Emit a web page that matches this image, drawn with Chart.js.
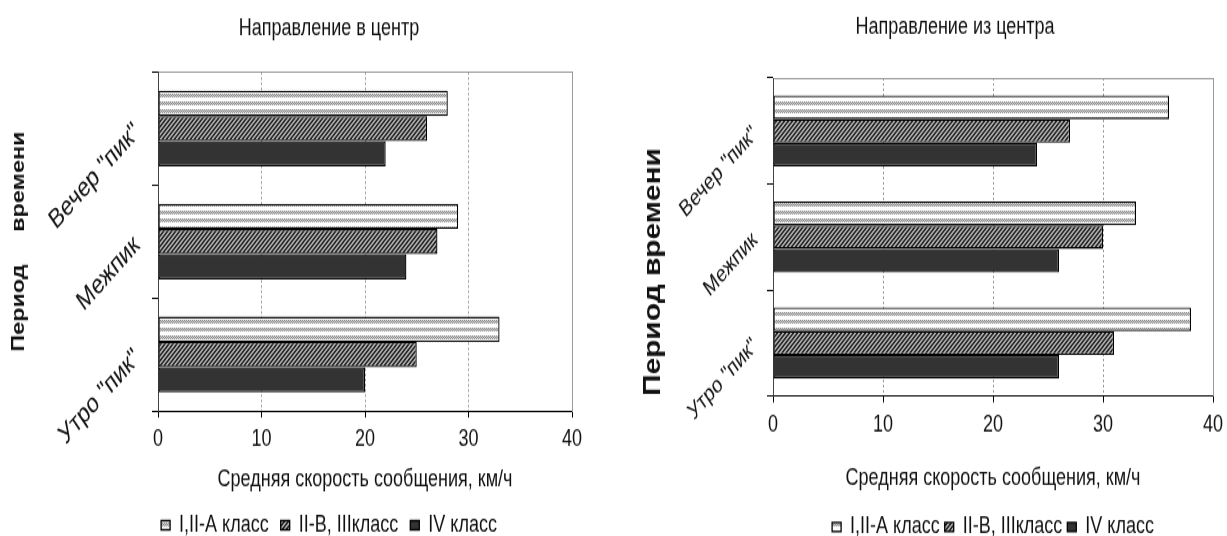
<!DOCTYPE html>
<html>
<head>
<meta charset="utf-8">
<script src="https://cdn.jsdelivr.net/npm/chart.js@4"></script>
<style>
  html, body { margin: 0; padding: 0; width: 1227px; height: 536px; overflow: hidden; background: #fff; }
  /* the source picture is stretched vertically, so the charts are too */
  .box { position: absolute; top: 0; transform: scaleY(1.3); transform-origin: 0 0; }
</style>
</head>
<body>
<div class="box" style="left:0"><canvas id="chartIn" width="658" height="430"></canvas></div>
<div class="box" style="left:636px"><canvas id="chartOut" width="638" height="430"></canvas></div>

<script>
// Data
const periods = ['Вечер "пик"', 'Межпик', 'Утро "пик"'];
const seriesNames = ['I,II-A класс', 'II-B, IIIкласс', 'IV класс'];

const inClass1 = [28, 29, 33];
const inClass2 = [26, 27, 25];
const inClass4 = [22, 24, 20];

const outClass1 = [36, 33, 38];
const outClass2 = [27, 30, 31];
const outClass4 = [24, 26, 26];

const speedTicks = [0, 10, 20, 30, 40];

const FONT = "'Liberation Sans', Arial, sans-serif";

// Fill patterns
function makePattern(w, h, draw) {
  const c = document.createElement('canvas');
  c.width = w; c.height = h;
  const p = c.getContext('2d');
  draw(p);
  return document.createElement('canvas').getContext('2d').createPattern(c, 'repeat');
}

// white with wavy grey bands
const stripes = makePattern(4, 6, p => {
  p.fillStyle = '#fff'; p.fillRect(0, 0, 4, 6);
  for (let x = 0; x < 4; x++) {
    p.fillStyle = x % 2 ? '#dcdcdc' : '#8c8c8c'; p.fillRect(x, 0, 1, 1);
    p.fillStyle = x % 2 ? '#8c8c8c' : '#c8c8c8'; p.fillRect(x, 1, 1, 1);
    p.fillStyle = x % 2 ? '#dcdcdc' : '#9a9a9a'; p.fillRect(x, 2, 1, 1);
  }
});

// dense diagonal hatch
const hatch = makePattern(4, 4, p => {
  p.fillStyle = '#aaaaaa'; p.fillRect(0, 0, 4, 4);
  p.fillStyle = '#2a2a2a';
  for (let x = 0; x < 4; x++)
    for (let y = 0; y < 4; y++)
      if ((x + y) % 4 < 2) p.fillRect(x, y, 1, 1);
});

const fills = [stripes, hatch, '#333333'];

function buildChart(id, title, values, p) {
  const datasets = values.map((v, i) => ({
    label: seriesNames[i],
    data: v,
    backgroundColor: fills[i],
    borderColor: '#000',
    borderWidth: 1.3,
    borderSkipped: false,
    categoryPercentage: 0.67,
    barPercentage: 1.0
  }));

  return new Chart(document.getElementById(id), {
    type: 'bar',
    data: { labels: periods, datasets: datasets },
    options: {
      indexAxis: 'y',
      responsive: false,
      animation: false,
      layout: { padding: { left: 0, right: 0, top: 0, bottom: p.padBottom } },
      plugins: {
        title: {
          display: true, text: title, color: '#111',
          font: { family: FONT, size: 18, weight: 'normal' },
          padding: p.titlePad
        },
        legend: {
          position: 'bottom',
          fullSize: p.legendFull,
          labels: {
            color: '#111', font: { family: FONT, size: 18 },
            boxWidth: 9, boxHeight: 7, padding: p.legendPad
          }
        },
        tooltip: { enabled: false }
      },
      scales: {
        x: {
          type: 'linear', axis: 'x', position: 'bottom',
          min: speedTicks[0], max: speedTicks[speedTicks.length - 1],
          afterBuildTicks: s => { s.ticks = speedTicks.map(v => ({ value: v })); },
          ticks: { color: '#111', font: { family: FONT, size: 18 }, padding: 6.5 },
          grid: {
            color: c => (c.tick && c.tick.value > 0 && c.tick.value < 40) ? '#9a9a9a' : 'rgba(0,0,0,0)',
            tickColor: '#000', tickLength: 5
          },
          border: { color: '#000', width: 1, dash: [2, 2] },
          title: {
            display: true, text: 'Средняя скорость сообщения, км/ч', color: '#111',
            font: { family: FONT, size: 18 }, padding: { top: 0, bottom: p.xTitlePad }
          },
          afterFit: s => { s.height = p.xHeight; }
        },
        xTop: {
          type: 'linear', axis: 'x', position: 'top', min: 0, max: 40,
          ticks: { display: false }, grid: { display: false },
          border: { color: '#999' },
          afterFit: s => { s.height = 0; }
        },
        y: {
          type: 'category', axis: 'y', position: 'left',
          ticks: {
            color: '#111', font: { family: FONT, size: p.catSize },
            minRotation: 41, maxRotation: 60, autoSkip: false, padding: p.catPad
          },
          grid: { drawOnChartArea: false, drawTicks: true, tickLength: 6, tickColor: '#000' },
          border: { color: '#444' },
          title: {
            display: true, text: p.yTitle, color: '#111', align: p.yTitleAlign,
            font: { family: FONT, size: p.yTitleSize, weight: 'bold' },
            padding: { top: p.yTitlePad, bottom: 0 }
          },
          afterFit: s => { s.width = p.yWidth; }
        },
        ySpace: {
          type: 'linear', axis: 'y', position: 'right',
          ticks: { display: false }, grid: { display: false },
          border: { color: '#999' },
          afterFit: s => { s.width = p.spacer; }
        }
      }
    }
  });
}

buildChart('chartIn', 'Направление в центр', [inClass1, inClass2, inClass4], {
  padBottom: 7, titlePad: { top: 11.2, bottom: 22.6 },
  legendFull: true, legendPad: 12,
  xTitlePad: 3.2, xHeight: 66.8,
  catSize: 21, catPad: 15, yTitle: 'Период     времени', yTitleAlign: 'center',
  yTitleSize: 18, yTitlePad: 8.2, yWidth: 158, spacer: 86
});

buildChart('chartOut', 'Направление из центра', [outClass1, outClass2, outClass4], {
  padBottom: 5.6, titlePad: { top: 10.7, bottom: 27.7 },
  legendFull: false, legendPad: 5,
  xTitlePad: 12.1, xHeight: 86.8,
  catSize: 18, catPad: 12, yTitle: 'Период времени', yTitleAlign: 'start',
  yTitleSize: 23, yTitlePad: 4.2, yWidth: 137, spacer: 61
});
</script>
</body>
</html>
